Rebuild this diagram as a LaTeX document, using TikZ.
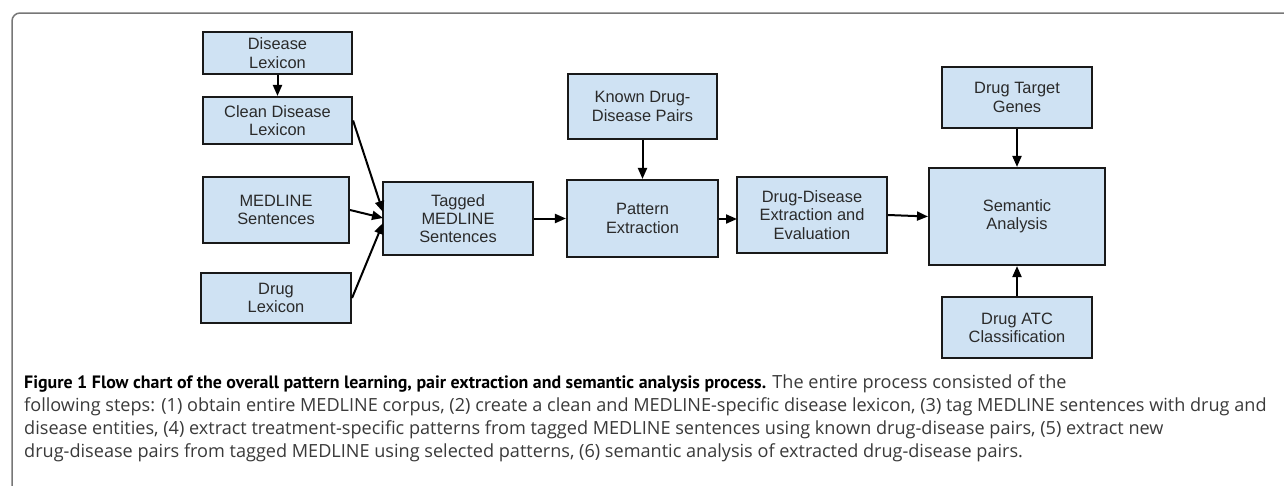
\documentclass[tikz,border=0pt]{standalone}
\usepackage{fontspec}
\setmainfont{Liberation Sans}
\newfontfamily\capfont{Open Sans}
\newfontfamily\capbold{PT Sans}
\usetikzlibrary{arrows.meta,calc}
\definecolor{boxfill}{HTML}{CFE2F3}
\definecolor{boxtext}{HTML}{2A2A2A}
\definecolor{framegray}{HTML}{777777}
\definecolor{captext}{HTML}{3A3A3A}
\tikzset{
  flowbox/.style={draw=black!90, line width=2.1pt, fill=boxfill, text=boxtext,
    align=center, inner sep=0pt, font=\fontsize{16.4}{18.3}\selectfont},
  flowarrow/.style={line width=2pt, -{Triangle[length=11pt,width=9pt]}},
  capline/.style={anchor=base west, inner sep=0pt, text=captext,
    font=\capfont\fontsize{18.1}{23}\selectfont}
}
\begin{document}
\begin{tikzpicture}[x=1pt,y=-1pt]
\useasboundingbox[fill=white] (0,0) rectangle (1284,485);
% frame
\draw[framegray, line width=1.5pt] (12,486) -- (12,21) arc[start angle=180, end angle=270, radius=8] -- (1285,13);

% boxes
\node[flowbox, minimum width=149pt, minimum height=42pt] (dis) at (277.5,53) {Disease\\Lexicon};
\node[flowbox, minimum width=149pt, minimum height=47pt] (clean) at (277.5,120.5) {Clean Disease\\Lexicon};
\node[flowbox, minimum width=146pt, minimum height=66pt] (med) at (276,210) {MEDLINE\\Sentences};
\node[flowbox, minimum width=150pt, minimum height=50pt] (drug) at (276,298) {Drug\\Lexicon};
\node[flowbox, minimum width=150pt, minimum height=73pt] (tag) at (458,218.5) {Tagged\\MEDLINE\\Sentences};
\node[flowbox, minimum width=149pt, minimum height=65pt] (known) at (642.5,106.5) {Known Drug-\\Disease Pairs};
\node[flowbox, minimum width=151pt, minimum height=77pt] (pat) at (642.5,218.5) {Pattern\\Extraction};
\node[flowbox, minimum width=150pt, minimum height=76pt] (dd) at (812,215) {Drug-Disease\\Extraction and\\Evaluation};
\node[flowbox, minimum width=176pt, minimum height=97pt] (sem) at (1017,216.5) {Semantic\\Analysis};
\node[flowbox, minimum width=150pt, minimum height=61pt] (tgt) at (1017,97.5) {Drug Target\\Genes};
\node[flowbox, minimum width=150pt, minimum height=61pt] (atc) at (1017,327.5) {Drug ATC\\Classification};

% arrow end points
\coordinate (tin1) at (383,212);
\coordinate (tin2) at (383,218);
\coordinate (tin3) at (383,223);
\coordinate (ddin) at (737,219);

% connectors
\draw[flowarrow] (dis) -- (clean);
\draw[flowarrow] (clean.east) -- (tin1);
\draw[flowarrow] (med.east) -- (tin2);
\draw[flowarrow] (drug.east) -- (tin3);
\draw[flowarrow] (tag.east) -- (pat.west);
\draw[flowarrow] (known) -- (pat);
\draw[flowarrow] (pat.east |- ddin) -- (ddin);
\draw[flowarrow] (dd.east) -- (sem.west);
\draw[flowarrow] (tgt) -- (sem);
\draw[flowarrow] (atc) -- (sem);

% caption
\node[capline] (cap1) at (24,388) {{\capbold\bfseries\fontsize{17.9}{23}\selectfont\color{black}Figure 1 Flow chart of the overall pattern learning, pair extraction and semantic analysis process.} The entire process consisted of the};
\node[capline] (cap2) at (24,411) {following steps: (1) obtain entire MEDLINE corpus, (2) create a clean and MEDLINE-specific disease lexicon, (3) tag MEDLINE sentences with drug and};
\node[capline] (cap3) at (24,434) {disease entities, (4) extract treatment-specific patterns from tagged MEDLINE sentences using known drug-disease pairs, (5) extract new};
\node[capline] (cap4) at (24,457) {drug-disease pairs from tagged MEDLINE using selected patterns, (6) semantic analysis of extracted drug-disease pairs.};
\end{tikzpicture}
\end{document}
